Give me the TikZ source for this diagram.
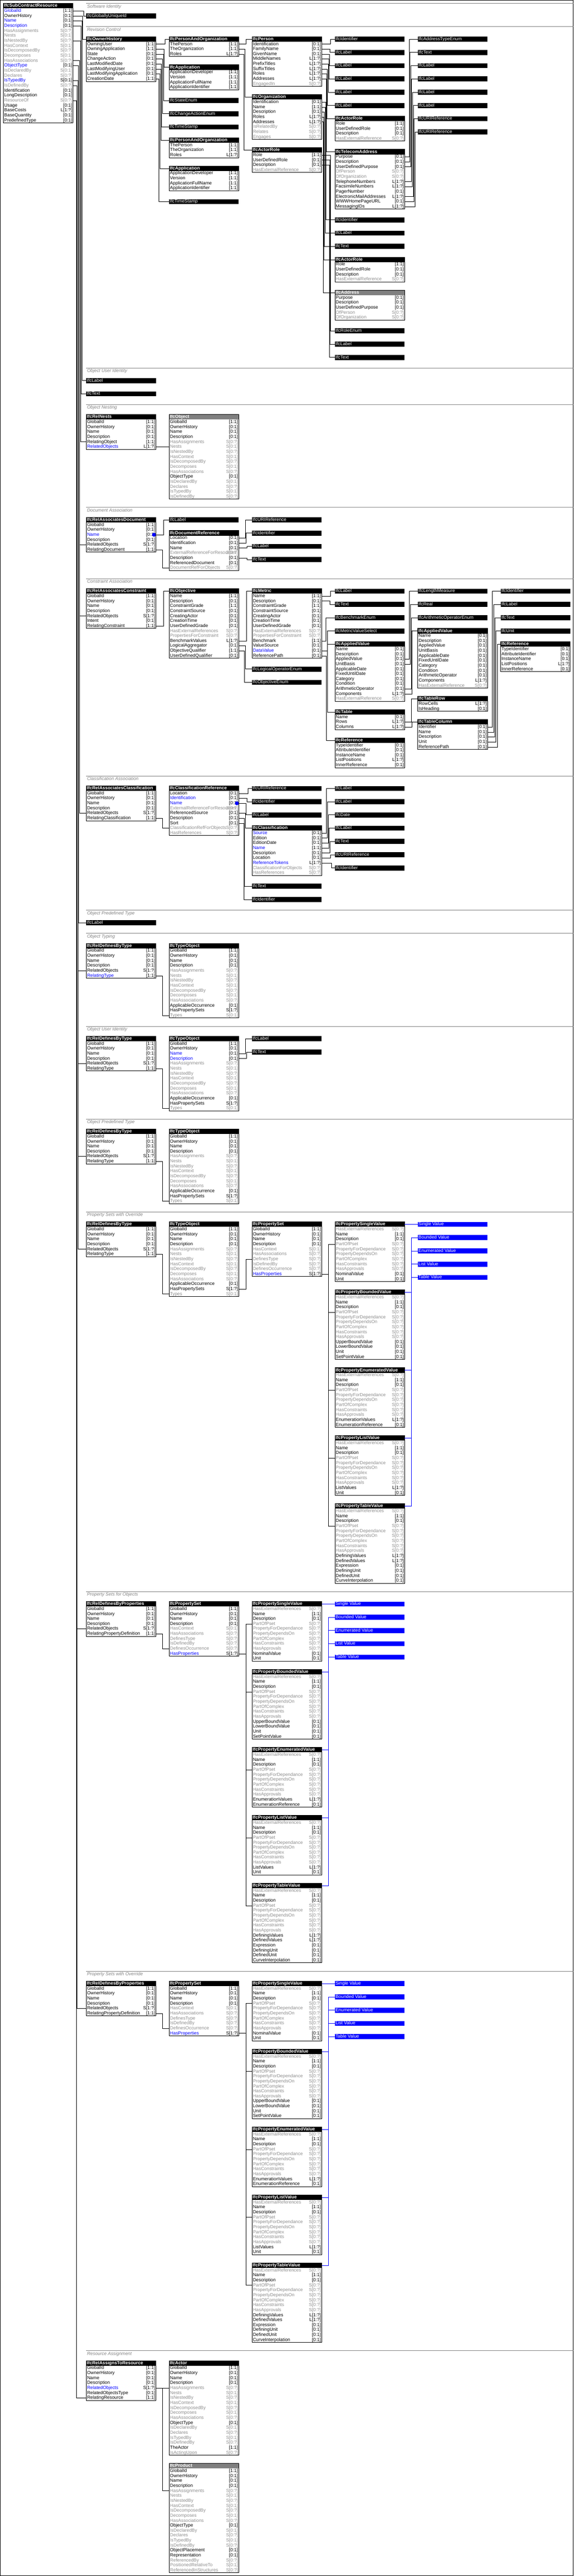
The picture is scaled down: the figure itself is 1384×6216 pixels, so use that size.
\documentclass[tikz,border=0pt]{standalone}
\usepackage{fontspec}
\setmainfont{Liberation Sans}
\definecolor{blk}{RGB}{0,0,0}
\definecolor{blu}{RGB}{0,0,255}
\definecolor{gry}{RGB}{140,140,140}
\colorlet{cblk}{black}
\colorlet{cblu}{black}
\colorlet{cgry}{gry}
\definecolor{secgray}{RGB}{128,128,128}
\definecolor{hgray}{RGB}{128,128,128}
\tikzset{
  hdr/.style={anchor=north west,minimum width=168pt,minimum height=12pt,inner xsep=1.5pt,inner ysep=0pt,text=white,font=\fontsize{11}{12}\selectfont\bfseries,text height=8.2pt,text depth=2.4pt},
  attrrow/.style={anchor=north west,minimum width=168pt,minimum height=12pt,inner xsep=2pt,inner ysep=0pt,font=\fontsize{11}{12}\selectfont,text height=8.2pt,text depth=2.4pt},
  stubbox/.style={anchor=north west,minimum width=168pt,minimum height=12pt,inner xsep=1.5pt,inner ysep=0pt,text=white,font=\fontsize{11}{12}\selectfont,text height=8.2pt,text depth=2.4pt},
  conn/.style={draw=black,line width=1pt},
  bconn/.style={draw=blu,line width=1pt},
  boxline/.style={draw=black,line width=1pt},
  secln/.style={draw=secgray,line width=1pt},
  seclab/.style={anchor=base west,text=secgray,font=\fontsize{11}{12}\selectfont\itshape,inner sep=0pt},
  dotm/.style={circle,fill=blu,minimum size=9.5pt,inner sep=0pt}
}
\newcommand\entbox[6]{%
  \node[hdr,fill=#5] (#1) at (#2,#3) {\hbox to 165pt{#4\hfill}};%
  \edef\entlist{#6}%
  \foreach \lab/\card/\col [count=\i] in \entlist {%
    \node[attrrow] (#1-\i) at (#2,#3+12*\i) {\hbox to 164pt{\color{\col}\rlap{\lab}\hfill\color{c\col}\card}};%
    \xdef\lastrow{\i}%
  }%
  \draw[boxline] (#2,#3) rectangle (#2+168,#3+12+12*\lastrow);%
}
\newcommand\stubbx[4]{\node[stubbox,fill=black] (#1) at (#2,#3) {\hbox to 165pt{#4\hfill}};}
\newcommand\bstubbx[4]{\node[stubbox,fill=blu] (#1) at (#2,#3) {\hbox to 165pt{#4\hfill}};}
\newcommand\cnx[3]{\coordinate (cnv) at (#3,0);\draw[conn] (#1.east) -- (#1.east -| cnv) |- (#2.west);}
\newcommand\bcnx[3]{\coordinate (cnv) at (#3,0);\draw[bconn] (#1.east) -- (#1.east -| cnv) |- (#2.west);}
\newcommand\cstr[2]{\draw[conn] (#1.east) -- (#2.west);}
\newcommand\secline[3]{\draw[secln] (208,#2) -- (1384,#2);\node[seclab] (#1) at (210,#2+10.5) {#3};}
\def\rootrows{GlobalId/[1:1]/blk,OwnerHistory/[0:1]/blk,Name/[0:1]/blk,Description/[0:1]/blk}
\def\objinv{HasAssignments/S[0:?]/gry,Nests/S[0:1]/gry,IsNestedBy/S[0:?]/gry,HasContext/S[0:1]/gry,IsDecomposedBy/S[0:?]/gry,Decomposes/S[0:1]/gry,HasAssociations/S[0:?]/gry}
\def\objtail{ObjectType/[0:1]/blk,IsDeclaredBy/S[0:1]/gry,Declares/S[0:?]/gry,IsTypedBy/S[0:1]/gry,IsDefinedBy/S[0:?]/gry}
\def\torows{\rootrows,\objinv,ApplicableOccurrence/[0:1]/blk,HasPropertySets/S[1:?]/blk,Types/S[0:1]/gry}
\def\rdtrows{\rootrows,RelatedObjects/S[1:?]/blk,RelatingType/[1:1]/blk}
\def\rdprows{\rootrows,RelatedObjects/S[1:?]/blk,RelatingPropertyDefinition/[1:1]/blk}
\def\psetr{\rootrows,HasContext/S[0:1]/gry,HasAssociations/S[0:?]/gry,DefinesType/S[0:?]/gry,IsDefinedBy/S[0:?]/gry,DefinesOccurrence/S[0:?]/gry,HasProperties/S[1:?]/blu}
\def\propc{HasExternalReferences/S[0:?]/gry,Name/[1:1]/blk,Description/[0:1]/blk,PartOfPset/S[0:?]/gry,PropertyForDependance/S[0:?]/gry,PropertyDependsOn/S[0:?]/gry,PartOfComplex/S[0:?]/gry,HasConstraints/S[0:?]/gry,HasApprovals/S[0:?]/gry}
\def\psvr{\propc,NominalValue/[0:1]/blk,Unit/[0:1]/blk}
\def\pbvr{\propc,UpperBoundValue/[0:1]/blk,LowerBoundValue/[0:1]/blk,Unit/[0:1]/blk,SetPointValue/[0:1]/blk}
\def\pevr{\propc,EnumerationValues/L[1:?]/blk,EnumerationReference/[0:1]/blk}
\def\plvr{\propc,ListValues/L[1:?]/blk,Unit/[0:1]/blk}
\def\ptvr{\propc,DefiningValues/L[1:?]/blk,DefinedValues/L[1:?]/blk,Expression/[0:1]/blk,DefiningUnit/[0:1]/blk,DefinedUnit/[0:1]/blk,CurveInterpolation/[0:1]/blk}
\def\paorows{ThePerson/[1:1]/blk,TheOrganization/[1:1]/blk,Roles/L[1:?]/blk}
\def\approws{ApplicationDeveloper/[1:1]/blk,Version/[1:1]/blk,ApplicationFullName/[1:1]/blk,ApplicationIdentifier/[1:1]/blk}
\def\actrows{Role/[1:1]/blk,UserDefinedRole/[0:1]/blk,Description/[0:1]/blk,HasExternalReference/S[0:?]/gry}
\def\conrows{Name/[1:1]/blk,Description/[0:1]/blk,ConstraintGrade/[1:1]/blk,ConstraintSource/[0:1]/blk,CreatingActor/[0:1]/blk,CreationTime/[0:1]/blk,UserDefinedGrade/[0:1]/blk,HasExternalReferences/S[0:?]/gry,PropertiesForConstraint/S[0:?]/gry}
\def\avrows{Name/[0:1]/blk,Description/[0:1]/blk,AppliedValue/[0:1]/blk,UnitBasis/[0:1]/blk,ApplicableDate/[0:1]/blk,FixedUntilDate/[0:1]/blk,Category/[0:1]/blk,Condition/[0:1]/blk,ArithmeticOperator/[0:1]/blk,Components/L[1:?]/blk,HasExternalReference/S[0:?]/gry}
\newcommand\propgroup[6]{%
  \entbox{#1psv}{#2}{#3}{IfcPropertySingleValue}{black}{\psvr}%
  \entbox{#1pbv}{#2}{#3+164}{IfcPropertyBoundedValue}{black}{\pbvr}%
  \entbox{#1pev}{#2}{#3+352}{IfcPropertyEnumeratedValue}{black}{\pevr}%
  \entbox{#1plv}{#2}{#3+516}{IfcPropertyListValue}{black}{\plvr}%
  \entbox{#1ptv}{#2}{#3+680}{IfcPropertyTableValue}{black}{\ptvr}%
  \bstubbx{#1sv}{#2+200}{#3}{Single Value}%
  \bstubbx{#1bv}{#2+200}{#3+32}{Bounded Value}%
  \bstubbx{#1ev}{#2+200}{#3+64}{Enumerated Value}%
  \bstubbx{#1lv}{#2+200}{#3+96}{List Value}%
  \bstubbx{#1tv}{#2+200}{#3+128}{Table Value}%
  \foreach \pp in {psv,pbv,pev,plv,ptv}{\cnx{#6-10}{#1\pp-4}{#4}}%
  \draw[bconn] (#1psv.east) -- (#1sv.west);%
  \bcnx{#1pbv}{#1bv}{#5}\bcnx{#1pev}{#1ev}{#5}\bcnx{#1plv}{#1lv}{#5}\bcnx{#1ptv}{#1tv}{#5}%
}
\begin{document}
\begin{tikzpicture}[x=1pt,y=-1pt]
\useasboundingbox (0,0) rectangle (1384,6216);
\draw[line width=1pt] (0.5,0.5) rectangle (1383.5,6215.5);
% main entity
\entbox{main}{8}{8.3}{IfcSubContractResource}{black}{GlobalId/[1:1]/blu,OwnerHistory/[0:1]/blk,Name/[0:1]/blu,Description/[0:1]/blu,HasAssignments/S[0:?]/gry,Nests/S[0:1]/gry,IsNestedBy/S[0:?]/gry,HasContext/S[0:1]/gry,IsDecomposedBy/S[0:?]/gry,Decomposes/S[0:1]/gry,HasAssociations/S[0:?]/gry,ObjectType/[0:1]/blu,IsDeclaredBy/S[0:1]/gry,Declares/S[0:?]/gry,IsTypedBy/S[0:1]/blu,IsDefinedBy/S[0:?]/gry,Identification/[0:1]/blk,LongDescription/[0:1]/blk,ResourceOf/S[0:?]/gry,Usage/[0:1]/blk,BaseCosts/L[1:?]/blk,BaseQuantity/[0:1]/blk,PredefinedType/[0:1]/blk}
% S1
\secline{s1}{8.3}{Software Identity}
\stubbx{ugid}{208}{32.3}{IfcGloballyUniqueId}
% S2
\secline{s2}{64.3}{Revision Control}
\entbox{oh}{208}{88.3}{IfcOwnerHistory}{black}{OwningUser/[1:1]/blk,OwningApplication/[1:1]/blk,State/[0:1]/blk,ChangeAction/[0:1]/blk,LastModifiedDate/[0:1]/blk,LastModifyingUser/[0:1]/blk,LastModifyingApplication/[0:1]/blk,CreationDate/[1:1]/blk}
\entbox{pao1}{408}{88.3}{IfcPersonAndOrganization}{black}{\paorows}
\entbox{app1}{408}{156.3}{IfcApplication}{black}{\approws}
\stubbx{stenum}{408}{236.3}{IfcStateEnum}
\stubbx{caenum}{408}{268.3}{IfcChangeActionEnum}
\stubbx{ts1}{408}{300.3}{IfcTimeStamp}
\entbox{pao2}{408}{332.3}{IfcPersonAndOrganization}{black}{\paorows}
\entbox{app2}{408}{400.3}{IfcApplication}{black}{\approws}
\stubbx{ts2}{408}{480.3}{IfcTimeStamp}
\entbox{person}{608}{88.3}{IfcPerson}{black}{Identification/[0:1]/blk,FamilyName/[0:1]/blk,GivenName/[0:1]/blk,MiddleNames/L[1:?]/blk,PrefixTitles/L[1:?]/blk,SuffixTitles/L[1:?]/blk,Roles/L[1:?]/blk,Addresses/L[1:?]/blk,EngagedIn/S[0:?]/gry}
\entbox{org}{608}{228.3}{IfcOrganization}{black}{Identification/[0:1]/blk,Name/[1:1]/blk,Description/[0:1]/blk,Roles/L[1:?]/blk,Addresses/L[1:?]/blk,IsRelatedBy/S[0:?]/gry,Relates/S[0:?]/gry,Engages/S[0:?]/gry}
\entbox{ar1}{608}{356.3}{IfcActorRole}{black}{\actrows}
\stubbx{pid}{808}{88.3}{IfcIdentifier}
\stubbx{pl1}{808}{120.3}{IfcLabel}
\stubbx{pl2}{808}{152.3}{IfcLabel}
\stubbx{pl3}{808}{184.3}{IfcLabel}
\stubbx{pl4}{808}{216.3}{IfcLabel}
\stubbx{pl5}{808}{248.3}{IfcLabel}
\entbox{ar2}{808}{280.3}{IfcActorRole}{black}{\actrows}
\entbox{tel}{808}{360.3}{IfcTelecomAddress}{black}{Purpose/[0:1]/blk,Description/[0:1]/blk,UserDefinedPurpose/[0:1]/blk,OfPerson/S[0:?]/gry,OfOrganization/S[0:?]/gry,TelephoneNumbers/L[1:?]/blk,FacsimileNumbers/L[1:?]/blk,PagerNumber/[0:1]/blk,ElectronicMailAddresses/L[1:?]/blk,WWWHomePageURL/[0:1]/blk,MessagingIDs/L[1:?]/blk}
\stubbx{oid}{808}{524.3}{IfcIdentifier}
\stubbx{olbl}{808}{556.3}{IfcLabel}
\stubbx{otxt}{808}{588.3}{IfcText}
\entbox{ar3}{808}{620.3}{IfcActorRole}{black}{\actrows}
\entbox{addr}{808}{700.3}{IfcAddress}{hgray}{Purpose/[0:1]/blk,Description/[0:1]/blk,UserDefinedPurpose/[0:1]/blk,OfPerson/S[0:?]/gry,OfOrganization/S[0:?]/gry}
\stubbx{renum}{808}{792.3}{IfcRoleEnum}
\stubbx{rlbl}{808}{824.3}{IfcLabel}
\stubbx{rtxt}{808}{856.3}{IfcText}
\stubbx{atenum}{1008}{88.3}{IfcAddressTypeEnum}
\stubbx{ttxt}{1008}{120.3}{IfcText}
\stubbx{tl1}{1008}{152.3}{IfcLabel}
\stubbx{tl2}{1008}{184.3}{IfcLabel}
\stubbx{tl3}{1008}{216.3}{IfcLabel}
\stubbx{tl4}{1008}{248.3}{IfcLabel}
\stubbx{turi1}{1008}{280.3}{IfcURIReference}
\stubbx{turi2}{1008}{312.3}{IfcURIReference}
\cnx{oh-1}{pao1}{398}\cnx{oh-2}{app1}{396}\cnx{oh-3}{stenum}{394}\cnx{oh-4}{caenum}{392}
\cnx{oh-5}{ts1}{390}\cnx{oh-6}{pao2}{388}\cnx{oh-7}{app2}{386}\cnx{oh-8}{ts2}{384}
\cnx{pao1-1}{person}{594}\cnx{pao1-2}{org}{591}\cnx{pao1-3}{ar1}{588}
\cnx{person-1}{pid}{798}\cnx{person-2}{pl1}{796.5}\cnx{person-3}{pl2}{795}\cnx{person-4}{pl3}{793.5}
\cnx{person-5}{pl4}{792}\cnx{person-6}{pl5}{790.5}\cnx{person-7}{ar2}{789}\cnx{person-8}{tel}{787.5}
\cnx{org-1}{oid}{786}\cnx{org-2}{olbl}{784.5}\cnx{org-3}{otxt}{783}\cnx{org-4}{ar3}{781.5}\cnx{org-5}{addr}{780}
\cnx{ar1-1}{renum}{798}\cnx{ar1-2}{rlbl}{796.5}\cnx{ar1-3}{rtxt}{795}
\cnx{tel-1}{atenum}{987}\cnx{tel-2}{ttxt}{989}\cnx{tel-3}{tl1}{991}\cnx{tel-6}{tl2}{993}
\cnx{tel-7}{tl3}{995}\cnx{tel-9}{tl4}{997}\cnx{tel-10}{turi1}{999}\cnx{tel-11}{turi2}{1001}
% S3
\secline{s3}{888.3}{Object User Identity}
\stubbx{uil}{208}{912.3}{IfcLabel}
\stubbx{uit}{208}{944.3}{IfcText}
% S4
\secline{s4}{976.3}{Object Nesting}
\entbox{relnests}{208}{1000.3}{IfcRelNests}{black}{\rootrows,RelatingObject/[1:1]/blk,RelatedObjects/L[1:?]/blu}
\entbox{object}{408}{1000.3}{IfcObject}{hgray}{\rootrows,\objinv,\objtail}
\cstr{relnests-6}{object-6}
% S5
\secline{s5}{1224.3}{Document Association}
\entbox{reldoc}{208}{1248.3}{IfcRelAssociatesDocument}{black}{GlobalId/[1:1]/blk,OwnerHistory/[0:1]/blk,Name/[0:1]/blu,Description/[0:1]/blk,RelatedObjects/S[1:?]/blk,RelatingDocument/[1:1]/blk}
\stubbx{dlbl}{408}{1248.3}{IfcLabel}
\entbox{docref}{408}{1280.3}{IfcDocumentReference}{black}{Location/[0:1]/blk,Identification/[0:1]/blk,Name/[0:1]/blk,ExternalReferenceForResources/S[0:?]/gry,Description/[0:1]/blk,ReferencedDocument/[0:1]/blk,DocumentRefForObjects/S[0:?]/gry}
\stubbx{duri}{608}{1248.3}{IfcURIReference}
\stubbx{did}{608}{1280.3}{IfcIdentifier}
\stubbx{dlbl2}{608}{1312.3}{IfcLabel}
\stubbx{dtxt}{608}{1344.3}{IfcText}
\cnx{reldoc-3}{dlbl}{395}\cnx{reldoc-6}{docref-7}{392}
\cnx{docref-1}{duri}{592}\cnx{docref-2}{did}{594}\cnx{docref-3}{dlbl2}{596}\cnx{docref-5}{dtxt}{596}
\node[dotm] (dot1) at (371.5,1290.3) {};
% S6
\secline{s6}{1396.3}{Constraint Association}
\entbox{relcon}{208}{1420.3}{IfcRelAssociatesConstraint}{black}{\rootrows,RelatedObjects/S[1:?]/blk,Intent/[0:1]/blk,RelatingConstraint/[1:1]/blk}
\entbox{objective}{408}{1420.3}{IfcObjective}{black}{\conrows,BenchmarkValues/L[1:?]/blk,LogicalAggregator/[0:1]/blk,ObjectiveQualifier/[1:1]/blk,UserDefinedQualifier/[0:1]/blk}
\entbox{metric}{608}{1420.3}{IfcMetric}{black}{\conrows,Benchmark/[1:1]/blk,ValueSource/[0:1]/blk,DataValue/[0:1]/blu,ReferencePath/[0:1]/blk}
\stubbx{logop}{608}{1608.3}{IfcLogicalOperatorEnum}
\stubbx{objenum}{608}{1640.3}{IfcObjectiveEnum}
\stubbx{clbl}{808}{1420.3}{IfcLabel}
\stubbx{ctxt}{808}{1452.3}{IfcText}
\stubbx{bench}{808}{1484.3}{IfcBenchmarkEnum}
\stubbx{mvs}{808}{1516.3}{IfcMetricValueSelect}
\entbox{av1}{808}{1548.3}{IfcAppliedValue}{black}{\avrows}
\entbox{ctable}{808}{1712.3}{IfcTable}{black}{Name/[0:1]/blk,Rows/L[1:?]/blk,Columns/L[1:?]/blk}
\entbox{cref}{808}{1780.3}{IfcReference}{black}{TypeIdentifier/[0:1]/blk,AttributeIdentifier/[0:1]/blk,InstanceName/[0:1]/blk,ListPositions/L[1:?]/blk,InnerReference/[0:1]/blk}
\stubbx{lenm}{1008}{1420.3}{IfcLengthMeasure}
\stubbx{creal}{1008}{1452.3}{IfcReal}
\stubbx{arith}{1008}{1484.3}{IfcArithmeticOperatorEnum}
\entbox{av2}{1008}{1516.3}{IfcAppliedValue}{black}{\avrows}
\entbox{trow}{1008}{1680.3}{IfcTableRow}{black}{RowCells/L[1:?]/blk,IsHeading/[0:1]/blk}
\entbox{tcol}{1008}{1736.3}{IfcTableColumn}{black}{Identifier/[0:1]/blk,Name/[0:1]/blk,Description/[0:1]/blk,Unit/[0:1]/blk,ReferencePath/[0:1]/blk}
\stubbx{c6id}{1208}{1420.3}{IfcIdentifier}
\stubbx{c6lbl}{1208}{1452.3}{IfcLabel}
\stubbx{c6txt}{1208}{1484.3}{IfcText}
\stubbx{c6unit}{1208}{1516.3}{IfcUnit}
\entbox{c6ref}{1208}{1548.3}{IfcReference}{black}{TypeIdentifier/[0:1]/blk,AttributeIdentifier/[0:1]/blk,InstanceName/[0:1]/blk,ListPositions/L[1:?]/blk,InnerReference/[0:1]/blk}
\cnx{relcon-7}{objective}{394}
\cnx{objective-10}{metric}{595}\cnx{objective-11}{logop}{592}\cnx{objective-12}{objenum}{590}
\cnx{metric-1}{clbl}{798}\cnx{metric-2}{ctxt}{796}\cnx{metric-10}{bench}{786}
\cnx{metric-12}{mvs}{790}\cnx{metric-12}{av1}{790}\cnx{metric-12}{ctable}{790}\cnx{metric-13}{cref}{788}
\cnx{av1-3}{lenm}{988}\cnx{av1-4}{creal}{990}\cnx{av1-9}{arith}{992}\cnx{av1-10}{av2}{994}
\cnx{ctable-2}{trow}{992}\cnx{ctable-3}{tcol}{994}
\cnx{tcol-1}{c6id}{1188}\cnx{tcol-2}{c6lbl}{1191}\cnx{tcol-3}{c6txt}{1194}\cnx{tcol-4}{c6unit}{1197}\cnx{tcol-5}{c6ref}{1200}
% S7
\secline{s7}{1872.3}{Classification Association}
\entbox{relclass}{208}{1896.3}{IfcRelAssociatesClassification}{black}{\rootrows,RelatedObjects/S[1:?]/blk,RelatingClassification/[1:1]/blk}
\entbox{classref}{408}{1896.3}{IfcClassificationReference}{black}{Location/[0:1]/blk,Identification/[0:1]/blu,Name/[0:1]/blu,ExternalReferenceForResources/S[0:?]/gry,ReferencedSource/[0:1]/blk,Description/[0:1]/blk,Sort/[0:1]/blk,ClassificationRefForObjects/S[0:?]/gry,HasReferences/S[0:?]/gry}
\stubbx{kuri}{608}{1896.3}{IfcURIReference}
\stubbx{kid}{608}{1928.3}{IfcIdentifier}
\stubbx{klbl}{608}{1960.3}{IfcLabel}
\entbox{classif}{608}{1992.3}{IfcClassification}{black}{Source/[0:1]/blu,Edition/[0:1]/blk,EditionDate/[0:1]/blk,Name/[1:1]/blu,Description/[0:1]/blk,Location/[0:1]/blk,ReferenceTokens/L[1:?]/blu,ClassificationForObjects/S[0:?]/gry,HasReferences/S[0:?]/gry}
\stubbx{ktxt}{608}{2132.3}{IfcText}
\stubbx{kid2}{608}{2164.3}{IfcIdentifier}
\stubbx{q1}{808}{1896.3}{IfcLabel}
\stubbx{q2}{808}{1928.3}{IfcLabel}
\stubbx{q3}{808}{1960.3}{IfcDate}
\stubbx{q4}{808}{1992.3}{IfcLabel}
\stubbx{q5}{808}{2024.3}{IfcText}
\stubbx{q6}{808}{2056.3}{IfcURIReference}
\stubbx{q7}{808}{2088.3}{IfcIdentifier}
\cnx{relclass-6}{classref-8}{392}
\cnx{classref-1}{kuri}{598}\cnx{classref-2}{kid}{596}\cnx{classref-3}{klbl}{594}
\cnx{classref-5}{classif}{592}\cnx{classref-6}{ktxt}{590}\cnx{classref-7}{kid2}{588}
\cnx{classif-1}{q1}{788}\cnx{classif-2}{q2}{790}\cnx{classif-3}{q3}{792}\cnx{classif-4}{q4}{794}
\cnx{classif-5}{q5}{796}\cnx{classif-6}{q6}{798}\cnx{classif-7}{q7}{800}
\node[dotm] (dot2) at (571.5,1938.3) {};
% S8
\secline{s8}{2196.3}{Object Predefined Type}
\stubbx{opl}{208}{2220.3}{IfcLabel}
% S9
\secline{s9}{2252.3}{Object Typing}
\entbox{rdt1}{208}{2276.3}{IfcRelDefinesByType}{black}{\rootrows,RelatedObjects/S[1:?]/blk,RelatingType/[1:1]/blu}
\entbox{to1}{408}{2276.3}{IfcTypeObject}{black}{\torows}
\cnx{rdt1-6}{to1-14}{392}
% S10
\secline{s10}{2476.3}{Object User Identity}
\entbox{rdt2}{208}{2500.3}{IfcRelDefinesByType}{black}{\rdtrows}
\entbox{to2}{408}{2500.3}{IfcTypeObject}{black}{GlobalId/[1:1]/blk,OwnerHistory/[0:1]/blk,Name/[0:1]/blu,Description/[0:1]/blu,\objinv,ApplicableOccurrence/[0:1]/blk,HasPropertySets/S[1:?]/blk,Types/S[0:1]/gry}
\stubbx{ulbl}{608}{2500.3}{IfcLabel}
\stubbx{utxt}{608}{2532.3}{IfcText}
\cnx{rdt2-6}{to2-14}{392}\cnx{to2-3}{ulbl}{592}\cnx{to2-4}{utxt}{595}
% S11
\secline{s11}{2700.3}{Object Predefined Type}
\entbox{rdt3}{208}{2724.3}{IfcRelDefinesByType}{black}{\rdtrows}
\entbox{to3}{408}{2724.3}{IfcTypeObject}{black}{\torows}
\cnx{rdt3-6}{to3-14}{392}
% S12
\secline{s12}{2924.3}{Property Sets with Override}
\entbox{rdt4}{208}{2948.3}{IfcRelDefinesByType}{black}{\rdtrows}
\entbox{to4}{408}{2948.3}{IfcTypeObject}{black}{\torows}
\entbox{pset1}{608}{2948.3}{IfcPropertySet}{black}{\psetr}
\cnx{rdt4-6}{to4-14}{392}\cnx{to4-13}{pset1-7}{594}
\propgroup{a}{808}{2948.3}{793}{992}{pset1}
% S13
\secline{s13}{3840.3}{Property Sets for Objects}
\entbox{rdp1}{208}{3864.3}{IfcRelDefinesByProperties}{black}{\rdprows}
\entbox{pset2}{408}{3864.3}{IfcPropertySet}{black}{\psetr}
\cnx{rdp1-6}{pset2-9}{392}
\propgroup{b}{608}{3864.3}{593}{793}{pset2}
% S14
\secline{s14}{4756.3}{Property Sets with Override}
\entbox{rdp2}{208}{4780.3}{IfcRelDefinesByProperties}{black}{\rdprows}
\entbox{pset3}{408}{4780.3}{IfcPropertySet}{black}{\psetr}
\cnx{rdp2-6}{pset3-9}{392}
\propgroup{c}{608}{4780.3}{593}{793}{pset3}
% S15
\secline{s15}{5672.3}{Resource Assignment}
\entbox{rtr}{208}{5696.3}{IfcRelAssignsToResource}{black}{\rootrows,RelatedObjects/S[1:?]/blu,RelatedObjectsType/[0:1]/blk,RelatingResource/[1:1]/blk}
\entbox{actor}{408}{5696.3}{IfcActor}{black}{\rootrows,\objinv,\objtail,TheActor/[1:1]/blk,IsActingUpon/S[0:?]/gry}
\entbox{product}{408}{5944.3}{IfcProduct}{hgray}{\rootrows,\objinv,\objtail,ObjectPlacement/[0:1]/blk,Representation/[0:1]/blk,ReferencedBy/S[0:?]/gry,PositionedRelativeTo/S[0:1]/gry,ReferencedInStructures/S[0:?]/gry}
\cstr{rtr-5}{actor-5}\cnx{rtr-5}{product-5}{392}
% main connections
\cnx{main-1}{ugid}{202}
\cnx{main-2}{oh}{200}
\cnx{main-3}{uil}{198}
\cnx{main-4}{uit}{196}
\cnx{main-7}{relnests-5}{194}
\cnx{main-11}{reldoc-5}{192}\cnx{main-11}{relcon-5}{192}\cnx{main-11}{relclass-5}{192}
\cnx{main-12}{opl}{190}
\cnx{main-15}{rdt1-5}{188}\cnx{main-15}{rdt2-5}{188}\cnx{main-15}{rdt3-5}{188}\cnx{main-15}{rdt4-5}{188}
\cnx{main-16}{rdp1-5}{186}\cnx{main-16}{rdp2-5}{186}
\cnx{main-19}{rtr-7}{184}
\end{tikzpicture}
\end{document}
